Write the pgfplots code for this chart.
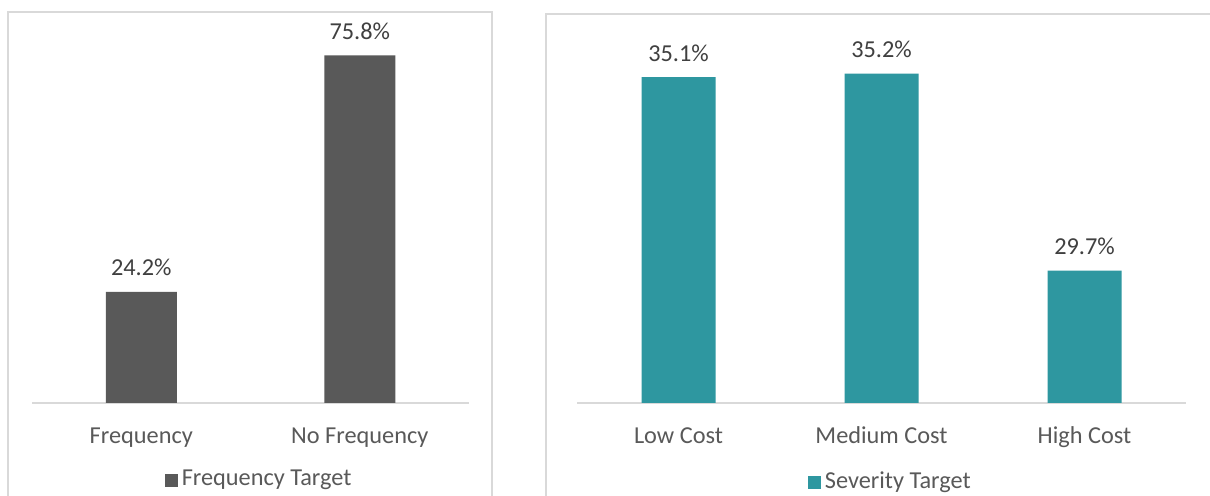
\documentclass[border=0pt]{standalone}
\usepackage{pgfplots}
\pgfplotsset{compat=1.18}
\usepackage{fontspec}
\setmainfont{Carlito}
\definecolor{gridc}{HTML}{D9D9D9}
\definecolor{bardark}{HTML}{595959}
\definecolor{tealbar}{HTML}{2E97A0}
\definecolor{lblc}{HTML}{404040}
\definecolor{tickc}{HTML}{595959}
\pgfplotsset{
  panel/.style={
    scale only axis,
    ybar,
    hide y axis,
    axis x line*=bottom,
    x axis line style={-, draw=gridc, line width=1bp},
    major tick length=0pt,
    xtick style={draw=none},
    xticklabel style={anchor=base, yshift=-20bp, text=tickc, font=\fontsize{12.2}{14}\selectfont},
    point meta=explicit symbolic,
    nodes near coords,
    nodes near coords style={anchor=base, yshift=8bp, inner sep=0pt, text=lblc, font=\fontsize{12.2}{14}\selectfont},
    clip mode=individual,
    legend style={draw=none, fill=none, anchor=center, font=\fontsize{12.2}{14}\selectfont, text=tickc},
    legend image code/.code={\fill[##1] (-1bp,-3.6bp) rectangle (5.5bp,2.9bp);},
  }
}
\begin{document}
\begin{tikzpicture}
\useasboundingbox (0bp,0bp) rectangle (605bp,248bp);
\clip (0bp,0bp) rectangle (605bp,248bp);
\fill[white] (0bp,0bp) rectangle (605bp,248bp);
% panel borders
\draw[gridc, line width=1bp] (4bp,-5bp) -- (4bp,242bp) -- (246bp,242bp) -- (246bp,-5bp);
\draw[gridc, line width=1bp] (273bp,-5bp) -- (273bp,241bp) -- (615bp,241bp);
% left chart
\begin{axis}[panel,
  at={(16bp,46.5bp)}, anchor=south west,
  width=218.5bp, height=183.5bp,
  xmin=-0.5, xmax=1.5, ymin=0, ymax=80,
  xtick={0,1}, xticklabels={Frequency, No Frequency},
  bar width=35.5bp,
  legend style={at={(0.522,-0.208)}},
]
\addplot[fill=bardark, draw=none] coordinates {(0,24.2) [24.2\%] (1,75.8) [75.8\%]};
\addlegendentry{Frequency Target}
\end{axis}
% right chart
\begin{axis}[panel,
  at={(288.5bp,46.5bp)}, anchor=south west,
  width=304.5bp, height=179bp,
  xmin=-0.5, xmax=2.5, ymin=26, ymax=36,
  xtick={0,1,2}, xticklabels={Low Cost, Medium Cost, High Cost},
  bar width=37bp,
  legend style={at={(0.516,-0.219)}},
]
\addplot[fill=tealbar, draw=none] coordinates {(0,35.1) [35.1\%] (1,35.2) [35.2\%] (2,29.7) [29.7\%]};
\addlegendentry{Severity Target}
\end{axis}
\end{tikzpicture}
\end{document}
